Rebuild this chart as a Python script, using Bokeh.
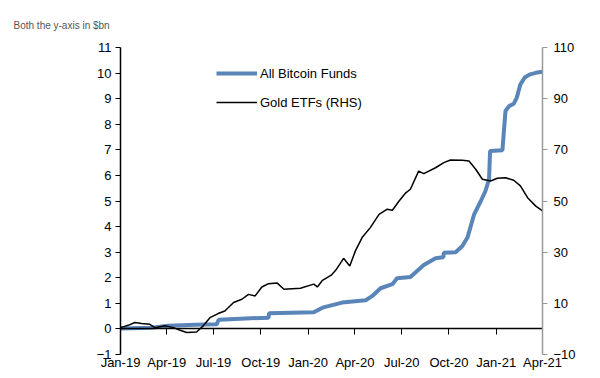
import pandas as pd
from bokeh.plotting import figure
from bokeh.models import (Range1d, LinearAxis, DatetimeAxis, FixedTicker,
                          DatetimeTickFormatter, Legend, LegendItem)
from bokeh.embed import file_html
from bokeh.resources import INLINE

# ---- data ----
btc_dates = ["2019-01-01", "2019-03-02", "2019-04-04", "2019-05-26", "2019-07-07",
             "2019-07-11", "2019-08-22", "2019-10-16", "2019-10-17", "2020-01-12",
             "2020-01-29", "2020-03-07", "2020-04-22", "2020-05-05", "2020-05-21",
             "2020-06-13", "2020-06-22", "2020-07-18", "2020-08-13", "2020-09-05",
             "2020-09-20", "2020-09-21", "2020-10-14", "2020-10-27", "2020-11-06",
             "2020-11-19", "2020-12-02", "2020-12-11", "2020-12-18", "2020-12-20",
             "2021-01-13", "2021-01-19", "2021-01-26", "2021-02-04", "2021-02-10",
             "2021-02-17", "2021-02-26", "2021-03-08", "2021-03-19", "2021-04-01"]
btc_values = [0.02, 0.05, 0.12, 0.16, 0.18,
              0.36, 0.40, 0.44, 0.61, 0.65,
              0.83, 1.03, 1.12, 1.29, 1.59,
              1.75, 1.98, 2.03, 2.50, 2.76,
              2.80, 2.98, 3.00, 3.24, 3.57,
              4.48, 5.00, 5.39, 5.85, 6.95,
              6.98, 8.52, 8.71, 8.80, 9.04,
              9.56, 9.84, 9.95, 10.01, 10.05]

gold_dates = ["2019-01-01", "2019-01-16", "2019-01-29", "2019-02-11", "2019-02-27",
              "2019-03-09", "2019-03-28", "2019-04-14", "2019-04-27", "2019-05-10",
              "2019-05-29", "2019-06-11", "2019-06-24", "2019-07-10", "2019-07-23",
              "2019-08-09", "2019-08-25", "2019-09-07", "2019-09-20", "2019-10-03",
              "2019-10-16", "2019-11-02", "2019-11-15", "2019-12-17", "2020-01-12",
              "2020-01-19", "2020-01-29", "2020-02-15", "2020-02-24", "2020-03-10",
              "2020-03-22", "2020-04-02", "2020-04-15", "2020-05-01", "2020-05-18",
              "2020-06-03", "2020-06-13", "2020-06-26", "2020-07-09", "2020-07-18",
              "2020-08-03", "2020-08-13", "2020-09-05", "2020-09-21", "2020-10-04",
              "2020-10-27", "2020-11-09", "2020-11-22", "2020-12-05", "2020-12-21",
              "2021-01-03", "2021-01-19", "2021-02-04", "2021-02-17", "2021-03-03",
              "2021-03-19", "2021-04-01"]
gold_values = [0.5, 1.4, 2.5, 2.1, 1.8,
               0.5, 1.2, 0.5, -0.5, -1.4,
               -1.2, 1.2, 4.4, 6.0, 7.0,
               10.3, 11.6, 13.5, 12.9, 16.4,
               17.7, 17.9, 15.5, 15.9, 17.5,
               16.4, 19.0, 21.0, 23.0, 27.6,
               24.6, 30.5, 35.7, 39.6, 44.8,
               46.8, 46.4, 50.0, 53.2, 54.6,
               61.7, 60.7, 63.0, 65.0, 66.0,
               65.9, 65.6, 62.4, 58.5, 57.8,
               58.9, 59.1, 58.1, 55.9, 51.3,
               48.0, 46.1]

x_tick_dates = ["2019-01-01", "2019-04-01", "2019-07-01", "2019-10-01", "2020-01-01",
                "2020-04-01", "2020-07-01", "2020-10-01", "2021-01-01", "2021-04-01"]
left_ticks = list(range(-1, 12))
right_ticks = [-10, 10, 30, 50, 70, 90, 110]

FONT = "Liberation Sans"

bx = pd.to_datetime(btc_dates)
gx = pd.to_datetime(gold_dates)
tick_ms = [pd.Timestamp(d).value / 1e6 for d in x_tick_dates]

p = figure(width=600, height=378, x_axis_type="datetime",
           x_range=Range1d(pd.Timestamp(x_tick_dates[0]), pd.Timestamp(x_tick_dates[-1])),
           y_range=Range1d(-1, 11),
           output_backend="svg", toolbar_location=None,
           title="Both the y-axis in $bn",
           min_border_left=120, min_border_right=58, min_border_top=46, min_border_bottom=24)
p.extra_y_ranges = {"rhs": Range1d(-10, 110)}
p.outline_line_color = None
p.xgrid.visible = False
p.ygrid.visible = False
p.background_fill_color = "white"
p.border_fill_color = "white"

p.title.align = "left"
p.title.offset = -107
p.title.text_font = FONT
p.title.text_font_size = "10px"
p.title.text_font_style = "normal"
p.title.text_color = "#555555"
p.title.standoff = 34

# bottom label axis
xa = p.xaxis[0]
xa.ticker = FixedTicker(ticks=tick_ms)
xa.formatter = DatetimeTickFormatter(days="%b-%y", months="%b-%y", years="%b-%y")
xa.axis_line_color = None
xa.major_tick_line_color = None
xa.minor_tick_line_color = None
xa.major_tick_out = 0
xa.major_tick_in = 0
xa.major_label_standoff = 0
xa.major_label_text_font = FONT
xa.major_label_text_font_size = "13px"
xa.major_label_text_color = "black"

# zero-line axis with ticks (no labels)
za = DatetimeAxis(ticker=FixedTicker(ticks=tick_ms), fixed_location=0,
                  axis_line_color="black", axis_line_width=1.5,
                  major_tick_line_color="black", major_tick_in=6, major_tick_out=0,
                  minor_tick_line_color=None, major_label_text_font_size="1px",
                  major_label_text_color=None, major_label_standoff=0)
p.add_layout(za, "above")

# left axis
ya = p.yaxis[0]
ya.ticker = FixedTicker(ticks=left_ticks)
ya.axis_line_color = "black"
ya.axis_line_width = 1.5
ya.major_tick_line_color = "black"
ya.major_tick_out = 5
ya.major_tick_in = 0
ya.minor_tick_line_color = None
ya.major_label_text_font = FONT
ya.major_label_text_font_size = "13px"
ya.major_label_text_color = "black"
ya.major_label_standoff = 4

# right axis
ra = LinearAxis(y_range_name="rhs", ticker=FixedTicker(ticks=right_ticks),
                axis_line_color="#999999", axis_line_width=1.5,
                major_tick_line_color="#999999", major_tick_out=5, major_tick_in=0,
                minor_tick_line_color=None, major_label_text_font=FONT,
                major_label_text_font_size="13px", major_label_text_color="black",
                major_label_standoff=6)
p.add_layout(ra, "right")

r_btc = p.line(bx, btc_values, line_color="#5A85B8", line_width=4)
r_gold = p.line(gx, gold_values, line_color="black", line_width=1.5, y_range_name="rhs")

legend = Legend(items=[LegendItem(label="All Bitcoin Funds", renderers=[r_btc]),
                       LegendItem(label="Gold ETFs (RHS)", renderers=[r_gold])],
                location=(96, 242), orientation="vertical",
                glyph_width=41, glyph_height=20, spacing=9, padding=0, margin=0,
                label_standoff=3, label_text_font=FONT, label_text_font_size="13px",
                label_text_color="black", border_line_color=None,
                background_fill_alpha=0)
p.add_layout(legend, "center")

open("out.html", "w").write(file_html(p, INLINE))
